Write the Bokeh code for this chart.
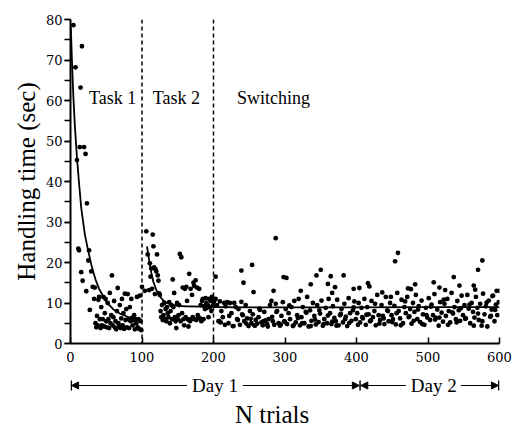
from bokeh.plotting import figure
from bokeh.layouts import column
from bokeh.models import (Range1d, FixedTicker, SingleIntervalTicker, Span, Arrow, NormalHead)
from bokeh.core.properties import value
from bokeh.embed import file_html
from bokeh.resources import INLINE

# ---------------- data ----------------
# Task 1 (trials 1-100)
t1_trial = [4, 7, 9, 11, 12, 13, 14, 15, 16, 17, 19, 21, 22, 23, 25, 26, 27, 29, 31,
            33, 34, 35, 36, 37, 38, 39, 40, 41, 42, 43, 44, 45, 46, 47, 48, 49, 50,
            51, 52, 53, 54, 55, 56, 57, 58, 59, 60, 61, 62, 63, 64, 65, 66, 67, 68,
            69, 70, 71, 72, 73, 74, 75, 76, 77, 78, 79, 80, 81, 82, 83, 84, 85, 86,
            87, 88, 89, 90, 91, 92, 93, 94, 95, 96, 97, 98, 99, 100]
t1_time = [78.6, 68.2, 45.3, 23.4, 23.0, 48.5, 63.2, 17.6, 73.4, 15.5, 48.5, 46.8, 12.9,
           34.6, 20.5, 23.0, 8.3, 17.8, 14.0,
           11.0, 13.8, 5.0, 4.0, 6.8, 4.5, 10.8, 11.5, 6.0, 3.8, 9.0, 4.5, 6.0, 11.5,
           4.2, 7.5, 11.0, 5.5, 4.0, 10.0, 6.0, 3.8, 12.5, 5.0, 7.0, 16.8, 4.5, 6.5,
           10.5, 4.0, 5.5, 3.5, 8.0, 13.7, 5.0, 4.2, 9.5, 3.8, 6.2, 11.0, 4.5, 7.5,
           3.6, 12.3, 5.8, 8.5, 4.0, 12.2, 6.0, 3.8, 9.0, 5.5, 11.0, 6.3, 4.5, 5.8,
           7.0, 3.5, 6.0, 5.0, 11.5, 4.0, 6.0, 3.6, 11.8, 5.5, 3.3, 14.0]

# Task 2 (trials 101-200)
t2_trial = [104, 106, 108, 110, 111, 112, 113, 114, 115, 116, 117, 118, 119, 120, 121,
            122, 123, 124, 125, 126, 127, 128, 129, 130, 131, 132, 133, 134, 135, 136,
            137, 138, 139, 140, 141, 142, 143, 144, 145, 146, 147, 148, 149, 150, 151,
            152, 153, 154, 155, 156, 157, 158, 159, 160, 161, 162, 163, 164, 165, 166,
            167, 168, 169, 170, 171, 172, 173, 174, 175, 176, 177, 178, 179, 180, 181,
            182, 183, 184, 185, 186, 187, 188, 189, 190, 191, 192, 193, 194, 195, 196,
            197, 198, 199, 200]
t2_time = [13.0, 27.7, 22.0, 13.2, 19.8, 16.5, 18.5, 13.5, 26.9, 24.0, 18.8, 12.2, 18.3,
           17.8, 22.0, 16.8, 15.5, 12.4, 12.0, 8.0, 6.5, 9.5, 5.8, 7.0, 10.0, 6.0, 8.5,
           5.5, 9.0, 7.5, 6.5, 10.2, 5.0, 8.0, 9.5, 6.0, 15.8, 9.0, 12.5, 6.5, 5.5, 3.8,
           10.0, 6.0, 7.0, 9.5, 22.1, 5.5, 21.3, 7.5, 13.8, 6.0, 4.5, 13.5, 6.5, 14.0,
           10.5, 6.0, 4.2, 17.2, 5.5, 13.5, 6.0, 12.0, 6.5, 15.0, 14.2, 6.0, 15.6, 5.8,
           13.8, 7.0, 6.5, 13.5, 6.2, 9.5, 5.5, 10.5, 11.0, 6.0, 9.2, 8.5, 11.2, 10.0,
           8.8, 9.5, 6.5, 11.0, 9.0, 10.5, 8.0, 11.5, 9.3, 10.2]

# Switching, Day 1 (odd trials 201-399)
sw1_trial = list(range(201, 400, 2))
sw1_time = [10.5, 11.0, 9.5, 5.5, 10.4, 8.0, 6.5, 10.0, 9.2, 10.2,
            5.0, 10.0, 7.5, 4.3, 10.0, 9.0, 6.0, 8.5, 4.6, 10.3,
            7.0, 5.5, 9.5, 6.2, 4.3, 8.0, 5.0, 7.2, 4.5, 5.8,
            4.9, 6.5, 8.3, 5.2, 4.5, 7.8, 5.7, 4.8, 6.0, 9.5,
            10.5, 5.5, 4.6, 9.8, 8.0, 5.0, 4.4, 6.8, 10.2, 5.5,
            8.5, 4.8, 7.5, 6.0, 9.0, 4.3, 10.5, 5.2, 7.0, 11.0,
            4.5, 6.5, 9.0, 5.0, 7.8, 11.5, 4.2, 8.2, 5.6, 10.0,
            6.8, 4.7, 9.5, 5.3, 7.4, 10.6, 4.4, 6.0, 8.8, 5.0,
            11.0, 7.5, 4.8, 9.2, 6.3, 5.5, 10.8, 4.5, 7.0, 8.5,
            5.2, 9.8, 6.6, 4.3, 11.2, 7.5, 5.6, 8.2, 10.4, 6.0]

# Switching, Day 2 (odd trials 401-599)
sw2_trial = list(range(401, 600, 2))
sw2_time = [7.5, 10.0, 5.2, 8.8, 6.2, 11.0, 4.6, 9.0, 7.2, 5.5,
            10.5, 6.5, 8.0, 4.5, 12.0, 7.0, 5.8, 9.5, 6.8, 4.8,
            11.5, 8.2, 5.5, 10.0, 7.0, 6.0, 9.3, 4.7, 12.5, 8.0,
            6.2, 10.8, 5.0, 9.0, 7.5, 11.5, 6.5, 8.5, 4.9, 10.0,
            7.8, 12.0, 6.0, 9.2, 5.3, 10.6, 7.2, 4.6, 8.8, 6.4,
            11.2, 5.8, 9.6, 7.0, 12.2, 6.3, 8.4, 4.4, 10.2, 7.6,
            5.4, 9.8, 6.8, 11.0, 8.0, 5.2, 12.5, 7.4, 9.0, 6.0,
            10.5, 8.2, 5.6, 11.8, 7.0, 9.5, 6.2, 12.0, 8.6, 5.0,
            10.0, 7.8, 6.4, 11.5, 8.8, 5.8, 9.8, 4.4, 12.3, 7.2,
            9.2, 4.2, 10.6, 6.6, 8.4, 11.8, 5.5, 9.6, 7.0, 10.2]

# Switching: additional even trials
sw3_trial = list(range(210, 600, 6))
sw3_time = [5.2, 4.6, 6.8, 4.3, 5.8, 7.2, 4.9, 6.1, 4.4, 8.6,
            5.5, 4.2, 6.6, 7.8, 4.7, 5.3, 9.4, 4.5, 6.3, 5.0,
            7.6, 4.3, 5.9, 8.2, 4.8, 6.9, 5.4, 4.4, 7.3, 6.0,
            5.1, 8.9, 4.6, 6.5, 7.1, 5.7, 9.8, 4.9, 6.2, 8.0,
            5.3, 7.5, 4.5, 10.4, 6.7, 5.6, 8.4, 4.8, 7.0, 9.1,
            5.9, 6.4, 10.8, 4.6, 7.7, 5.2, 8.7, 6.1, 9.6, 4.4,
            7.4, 5.5, 10.1, 6.8, 8.3]

# Switching: higher values
sw_hi_trial = [203, 208, 239, 242, 254, 256, 284, 287, 298, 302, 322, 336, 344, 350, 360,
               364, 366, 370, 382, 396, 404, 416, 418, 436, 448, 454, 458, 472, 476, 482,
               508, 516, 524, 536, 544, 564, 566, 570, 576, 590, 596, 600]
sw_hi_time = [16.5, 5.5, 18.0, 15.0, 19.4, 12.7, 13.0, 26.0, 16.4, 16.2, 13.0, 14.6,
              16.8, 18.2, 14.7, 16.6, 12.5, 13.9, 16.8, 13.5, 13.7, 14.9, 14.1, 12.6,
              11.5, 20.3, 22.4, 13.6, 13.4, 14.6, 15.1, 13.8, 13.2, 16.4, 14.3, 14.3,
              13.3, 18.2, 20.5, 11.7, 13.0, 13.0]

# Fitted curves
fit1_trial = [0.5, 2, 4, 6, 9, 12, 15, 20, 24, 30, 35, 40, 50, 60, 70, 80, 90, 100]
fit1_time = [78.0, 70.0, 61.0, 54.0, 46.0, 39.5, 33.5, 27.0, 23.5, 18.8, 15.8, 13.5,
             10.3, 8.4, 7.3, 6.6, 6.1, 5.9]
fit2_trial = [107, 110, 113, 116, 120, 125, 130, 135, 140, 150, 160, 180, 200]
fit2_time = [24.0, 20.5, 17.5, 15.2, 13.2, 11.6, 10.6, 10.0, 9.7, 9.3, 9.2, 9.1, 9.1]
fit3_trial = [200, 300, 400, 500, 600]
fit3_time = [9.0, 8.9, 8.9, 9.0, 9.0]

phase_bounds = [100, 200]
phase_names = ["Task 1", "Task 2", "Switching"]
phase_label_x = [26, 115, 233]
x_ticks = [0, 100, 200, 300, 400, 500, 600]

# day spans (trials) and annotation positions
day_names = ["Day 1", "Day 2"]
day_center = [202, 508]
day_bars = [1, 405, 599]
day_arrow_start = [163, 241, 469, 546]
day_arrow_end = [1.5, 404, 406, 598.5]

SERIF = "Liberation Serif"
NUM = "DejaVu Serif"

p = figure(width=514, height=368, output_backend="svg", toolbar_location=None,
           x_range=Range1d(0, 600), y_range=Range1d(0, 80),
           min_border_left=70, min_border_right=15, min_border_top=19,
           min_border_bottom=25, outline_line_color=None,
           background_fill_color="white", border_fill_color="white")
p.grid.visible = False

xa = p.xaxis[0]
xa.ticker = FixedTicker(ticks=x_ticks, minor_ticks=[])
xa.major_tick_in = 6
xa.major_tick_out = 0
xa.minor_tick_in = 0
xa.minor_tick_out = 0
xa.major_label_standoff = 8
xa.major_label_text_font = NUM
xa.major_label_text_font_size = "13px"
xa.major_label_text_color = "black"
xa.axis_line_width = 2
xa.major_tick_line_width = 1.5
xa.axis_line_color = "black"

ya = p.yaxis[0]
ya.ticker = SingleIntervalTicker(interval=10, num_minor_ticks=2)
ya.major_tick_in = 0
ya.major_tick_out = 6
ya.minor_tick_in = 0
ya.minor_tick_out = 6
ya.major_label_standoff = 2
ya.major_label_text_font = NUM
ya.major_label_text_font_size = "13px"
ya.major_label_text_color = "black"
ya.axis_line_width = 2
ya.major_tick_line_width = 1.5
ya.minor_tick_line_width = 1.5
ya.axis_label = "Handling time (sec)"
ya.axis_label_text_font = SERIF
ya.axis_label_text_font_size = "25px"
ya.axis_label_text_font_style = "normal"
ya.axis_label_text_color = "black"
ya.axis_label_standoff = 3

for b in phase_bounds:
    p.add_layout(Span(location=b, dimension="height", line_color="black",
                      line_dash="4 3", line_width=1.5))

for tx, ty in [(t1_trial, t1_time), (t2_trial, t2_time), (sw1_trial, sw1_time),
               (sw2_trial, sw2_time), (sw3_trial, sw3_time), (sw_hi_trial, sw_hi_time)]:
    p.scatter(tx, ty, size=4.8, color="black", line_color=None)

for fx, fy in [(fit1_trial, fit1_time), (fit2_trial, fit2_time), (fit3_trial, fit3_time)]:
    p.line(fx, fy, line_color="black", line_width=1.8)

p.text(x=phase_label_x, y=[60.5] * 3, text=phase_names, text_font=value(SERIF),
       text_font_size="18px", text_baseline="middle", text_align="left", text_color="black")

# ---- lower strip: day spans and axis title (frame aligned with the plot above) ----
q = figure(width=514, height=60, output_backend="svg", toolbar_location=None,
           x_range=p.x_range, y_range=Range1d(0, 60),
           min_border_left=70, min_border_right=15, min_border_top=0, min_border_bottom=0,
           outline_line_color=None, background_fill_color="white",
           border_fill_color="white")
q.axis.visible = False
q.grid.visible = False

DAY_Y = 43
q.text(x=day_center, y=[DAY_Y] * 2, text=day_names, text_font=value(SERIF),
       text_font_size="19px", text_baseline="middle", text_align="center", text_color="black")
for xs, xe in zip(day_arrow_start, day_arrow_end):
    q.add_layout(Arrow(x_start=xs, y_start=DAY_Y, x_end=xe, y_end=DAY_Y,
                       line_width=1.2, line_color="black",
                       end=NormalHead(size=7, fill_color="black", line_color="black")))
q.segment(x0=day_bars, y0=[DAY_Y - 5] * 3, x1=day_bars, y1=[DAY_Y + 5] * 3,
          line_color="black", line_width=1.5)
q.text(x=[282], y=[14], text=["N trials"], text_font=value(SERIF), text_font_size="25px",
       text_baseline="middle", text_align="center", text_color="black")

layout = column(p, q, spacing=0)
open("out.html", "w").write(file_html(layout, INLINE))
